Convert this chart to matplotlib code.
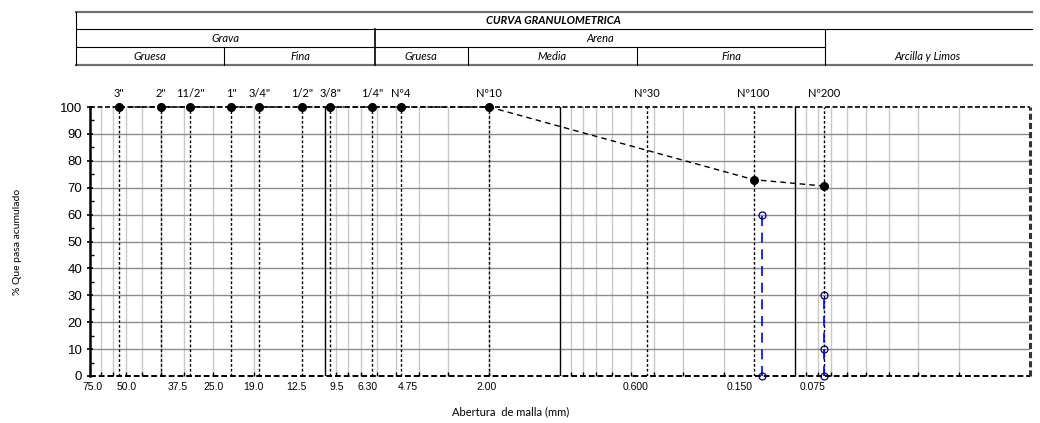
import numpy as np
import matplotlib
matplotlib.use('Agg')
import matplotlib.pyplot as plt
from matplotlib.lines import Line2D
from matplotlib.ticker import FixedLocator, NullFormatter

# datos de la curva granulometrica
tamices = ['3"', '2"', '11/2"', '1"', '3/4"', '1/2"', '3/8"', '1/4"', 'Nº4', 'Nº10', 'Nº30', 'Nº100', 'Nº200']
abertura = [75.0, 50.0, 37.5, 25.0, 19.0, 12.5, 9.5, 6.3, 4.75, 2.0, 0.425, 0.150, 0.075]

abertura_curva = [75.0, 50.0, 37.5, 25.0, 19.0, 12.5, 9.5, 6.3, 4.75, 2.0, 0.150, 0.075]
pasa = [100, 100, 100, 100, 100, 100, 100, 100, 100, 100, 73.0, 70.6]

# diametros efectivos (lineas azules)
d_x1 = [0.138, 0.138]
d_y1 = [0, 60]
d_x2 = [0.075, 0.075, 0.075]
d_y2 = [0, 10, 30]

etiquetas_x = ['75.0', '50.0', '37.5', '25.0', '19.0', '12.5', '9.5', '6.30', '4.75', '2.00', '0.600', '0.150', '0.075']
pos_etiquetas = [98.0, 69.6, 42.2, 29.7, 20.2, 13.3, 8.95, 6.61, 4.45, 2.05, 0.478, 0.172, 0.0843]

W, H = 1040, 423
fig = plt.figure(figsize=(W / 100, H / 100), dpi=100)
ax = fig.add_axes([90 / W, 1 - 376 / H, 940 / W, 269 / H])

ax.set_xscale('log')
ax.set_xlim(100, 0.01)
ax.set_ylim(0, 100)

# rejilla
menores = [m * 10.0 ** e for e in range(-2, 2) for m in range(2, 10)]
for v in menores:
    ax.axvline(v, color='#c8c8c8', lw=1, zorder=1)
for v in [10, 1, 0.1]:
    ax.axvline(v, color='black', lw=1, zorder=2)
for v in range(10, 100, 10):
    ax.axhline(v, color='#8c8c8c', lw=1, zorder=1)

# lineas de tamices
for a in abertura:
    ax.plot([a, a], [0, 100], color='black', lw=1, ls=(0, (2, 1.5)), zorder=3)
for t, a in zip(tamices, abertura):
    ax.text(a, 105, t, ha='center', va='center', fontsize=8, family='Lato')

# curva
ax.plot(abertura_curva, pasa, color='black', lw=1, ls=(0, (4, 3)), marker='o', ms=5.5,
        zorder=5, clip_on=False)

# lineas azules
ax.plot(d_x1, d_y1, color='#0000ff', lw=1.2, ls=(0, (6, 4)), marker='o', ms=5,
        mfc='none', mec='#000060', mew=0.9, zorder=6, clip_on=False)
ax.plot(d_x2, d_y2, color='#0000ff', lw=1.2, ls=(0, (6, 4)), marker='o', ms=5,
        mfc='none', mec='#000060', mew=0.9, zorder=6, clip_on=False)

# bordes
for s in ['top', 'bottom', 'right']:
    ax.spines[s].set_visible(False)
ax.spines['left'].set_linewidth(1.8)
ax.plot([100, 0.01], [100, 100], color='black', lw=1.2, ls=(0, (3, 1.5)), zorder=4, clip_on=False)
ax.plot([100, 0.01], [0, 0], color='black', lw=1.4, ls=(0, (3, 1.5)), zorder=4, clip_on=False)
ax.plot([0.01, 0.01], [0, 100], color='#333333', lw=2.2, ls=(0, (2, 1)), zorder=4, clip_on=False)

# ejes
ax.xaxis.set_major_locator(FixedLocator(pos_etiquetas))
ax.set_xticklabels(etiquetas_x, fontsize=7.5, family='Liberation Sans')
ax.xaxis.set_minor_locator(FixedLocator(menores))
ax.xaxis.set_minor_formatter(NullFormatter())
ax.tick_params(axis='x', which='major', length=0, pad=4)
ax.tick_params(axis='x', which='minor', length=3, direction='in', width=1)

ax.set_yticks(range(0, 101, 10))
ax.set_yticks(range(5, 100, 10), minor=True)
ax.tick_params(axis='y', which='major', length=5, direction='inout', width=1.2, labelsize=9.5, pad=3)
ax.tick_params(axis='y', which='minor', length=3, direction='in', width=1)
for lb in ax.get_yticklabels():
    lb.set_family('Liberation Sans')

ax.set_ylabel('% Que pasa acumulado', fontsize=7.5, family='Lato')
ax.yaxis.set_label_coords(-0.072, 0.5)
ax.set_xlabel('Abertura  de malla (mm)', fontsize=8, family='Lato')
ax.xaxis.set_label_coords(0.448, -0.112)

# cuadro de encabezado
def fx(px):
    return px / W

def fy(py):
    return 1 - py / H

def linea(x0, y0, x1, y1, c='black', lw=0.8):
    fig.add_artist(Line2D([fx(x0), fx(x1)], [fy(y0), fy(y1)], color=c, lw=lw))

linea(76, 12, 1032, 12, '#707070', 1.6)
linea(76, 29, 1032, 29)
linea(76, 47, 825, 47)
linea(76, 65, 1032, 65, '#707070', 1.6)
linea(76, 12, 76, 65)
linea(375, 29, 375, 65, 'black', 1.2)
linea(825, 29, 825, 65)
linea(224, 47, 224, 65)
linea(468, 47, 468, 65)
linea(637, 47, 637, 65)

fig.text(fx(553), fy(21), 'CURVA GRANULOMETRICA', ha='center', va='center', fontsize=8,
         family='Lato', style='italic', weight='bold')
cabecera = [('Grava', 225, 38), ('Arena', 600, 38), ('Gruesa', 150, 56), ('Fina', 300, 56),
            ('Gruesa', 421, 56), ('Media', 552, 56), ('Fina', 731, 56), ('Arcilla y Limos', 927, 56)]
for t, x, y in cabecera:
    fig.text(fx(x), fy(y), t, ha='center', va='center', fontsize=8, family='Lato', style='italic')

fig.savefig('out.png', dpi=100)
